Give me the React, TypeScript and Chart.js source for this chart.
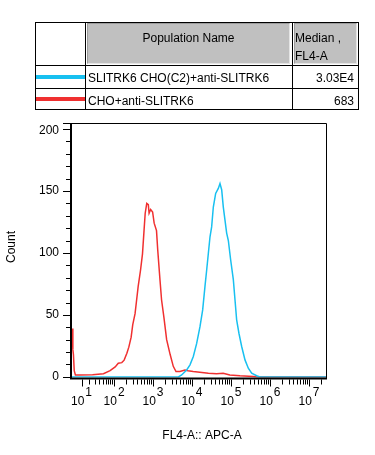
import React, { useEffect, useRef } from "react";
import { Chart, registerables } from "chart.js";

Chart.register(...registerables);

// ---------- data ----------
const POPULATIONS = ["SLITRK6 CHO(C2)+anti-SLITRK6", "CHO+anti-SLITRK6"];
const MEDIANS = ["3.03E4", "683"];
const SERIES_COLORS = ["#18c0f0", "#f03030"];

// histogram bins: position in display decades (biexponential axis), count
const BLUE_X = [0.92, 3.65, 3.735, 3.863, 3.949, 4.034, 4.12, 4.205, 4.274, 4.333, 4.376, 4.419, 4.462, 4.504, 4.547, 4.607, 4.675, 4.718, 4.761, 4.803, 4.846, 4.889, 4.932, 4.991, 5.06, 5.103, 5.145, 5.205, 5.274, 5.359, 5.444, 5.53, 5.658, 5.744, 7.47];
const BLUE_Y = [0, 0, 1.5, 5.6, 9.7, 16.4, 27, 40.5, 54, 73, 86, 99.5, 113, 121, 137, 148, 152, 156, 151, 137, 126.5, 116, 110, 94.5, 78.5, 62, 46, 35, 24.5, 13.7, 7, 3, 0.9, 0, 0];

const RED_X = [0.93, 0.945, 0.96, 0.98, 1.01, 1.13, 1.45, 1.73, 1.9, 2.03, 2.11, 2.2, 2.26, 2.33, 2.38, 2.44, 2.48, 2.54, 2.58, 2.62, 2.68, 2.73, 2.77, 2.8, 2.84, 2.88, 2.9, 2.94, 2.99, 3.03, 3.09, 3.12, 3.18, 3.22, 3.28, 3.35, 3.44, 3.52, 3.59, 3.69, 3.82, 3.9, 4.03, 4.2, 4.42, 4.63, 4.8, 4.97, 5.23, 5.57, 5.66, 7.47];
const RED_Y = [39, 22, 18, 5, 1.5, 1.5, 1.8, 2.5, 5, 8, 11, 11.5, 13.5, 19, 24, 32, 42, 51, 62, 73, 86, 99, 118, 132, 140, 139, 132, 135, 133, 124, 118, 103, 78, 62, 48, 30, 18, 8.5, 4.3, 4.3, 5.6, 4.9, 4.3, 3.7, 3, 2.5, 3, 1.6, 0.9, 0.4, 0, 0];

// axes
const X_MIN = 0.923;
const X_MAX = 7.462;
const Y_MIN = -0.5;
const Y_MAX = 204.8;
const X_DECADES = [1, 2, 3, 4, 5, 6, 7];
const X_MINOR_MULT = [2, 3, 4, 5, 6, 7, 8, 9];
const Y_MAJOR = [0, 50, 100, 150, 200];
const Y_MINOR_STEP = 10;
const X_TITLE = "FL4-A:: APC-A";
const Y_TITLE = "Count";

const FONT = '"Liberation Sans", Arial, Helvetica, sans-serif';
const BIEX_A = 8.3;
const toU = (v: number) => Math.log10(v / 2 + Math.sqrt((v * v) / 4 + BIEX_A * BIEX_A));

const axesPlugin = {
  id: "flowAxes",
  afterDraw(chart: any) {
    const { ctx, chartArea: a, scales } = chart;
    const xs = scales.x;
    const ys = scales.y;
    ctx.save();
    ctx.strokeStyle = "#000";
    ctx.fillStyle = "#000";
    // thin frame top/right (top line extends left as a tick)
    ctx.lineWidth = 1;
    ctx.beginPath();
    ctx.moveTo(a.left - 9, a.top + 0.5);
    ctx.lineTo(a.right - 0.5, a.top + 0.5);
    ctx.lineTo(a.right - 0.5, a.bottom + 1);
    ctx.stroke();
    // thick left & bottom axes
    ctx.lineWidth = 2;
    ctx.beginPath();
    ctx.moveTo(a.left - 1, a.top);
    ctx.lineTo(a.left - 1, a.bottom + 2);
    ctx.moveTo(a.left - 2, a.bottom + 1);
    ctx.lineTo(a.right, a.bottom + 1);
    ctx.stroke();

    // x ticks
    ctx.lineWidth = 1;
    const axY = a.bottom + 2;
    const drawXTick = (v: number, len: number) => {
      const u = toU(v);
      if (u < X_MIN || u > X_MAX) return;
      const px = Math.round(xs.getPixelForValue(u)) + 0.5;
      ctx.beginPath();
      ctx.moveTo(px, axY);
      ctx.lineTo(px, axY + len);
      ctx.stroke();
    };
    for (const n of X_DECADES) {
      drawXTick(Math.pow(10, n), 7);
      for (const m of X_MINOR_MULT) drawXTick(m * Math.pow(10, n), 5);
    }
    // x labels
    ctx.font = `12px ${FONT}`;
    ctx.textBaseline = "alphabetic";
    ctx.textAlign = "left";
    for (const n of X_DECADES) {
      const px = xs.getPixelForValue(toU(Math.pow(10, n)));
      const w10 = ctx.measureText("10").width;
      const sup = String(n);
      const ws = ctx.measureText(sup).width;
      const start = px - (w10 + 1 + ws) / 2;
      ctx.fillText("10", start, 405);
      ctx.fillText(sup, start + w10 + 1, 396);
    }

    // y ticks
    const axX = a.left - 2;
    for (let v = 0; v <= 200; v += Y_MINOR_STEP) {
      const py = Math.round(ys.getPixelForValue(v)) + 0.5;
      const len = Y_MAJOR.includes(v) ? 7 : 4;
      ctx.beginPath();
      ctx.moveTo(axX, py);
      ctx.lineTo(axX - len, py);
      ctx.stroke();
    }
    ctx.textAlign = "right";
    ctx.textBaseline = "middle";
    for (const v of Y_MAJOR) {
      ctx.fillText(String(v), 59, ys.getPixelForValue(v) + (v === 200 ? 2 : 0));
    }

    // titles
    ctx.textAlign = "center";
    ctx.textBaseline = "middle";
    ctx.fillText(X_TITLE, 202, 436);
    ctx.save();
    ctx.translate(12, 247);
    ctx.rotate(-Math.PI / 2);
    ctx.fillText(Y_TITLE, 0, 0);
    ctx.restore();
    ctx.restore();
  },
};

const abs = (s: React.CSSProperties): React.CSSProperties => ({ position: "absolute", ...s });

export default function App() {
  const ref = useRef<HTMLCanvasElement>(null);
  useEffect(() => {
    const chart = new Chart(ref.current as HTMLCanvasElement, {
      type: "line",
      data: {
        datasets: [
          {
            label: POPULATIONS[0],
            data: BLUE_X.map((x, i) => ({ x, y: BLUE_Y[i] })),
            borderColor: SERIES_COLORS[0],
            borderWidth: 1.5,
            pointRadius: 0,
            fill: false,
            tension: 0,
          },
          {
            label: POPULATIONS[1],
            data: RED_X.map((x, i) => ({ x, y: RED_Y[i] })),
            borderColor: SERIES_COLORS[1],
            borderWidth: 1.5,
            pointRadius: 0,
            fill: false,
            tension: 0,
          },
        ],
      },
      options: {
        animation: false,
        responsive: false,
        devicePixelRatio: 1,
        events: [],
        layout: { autoPadding: false, padding: { left: 72, top: 123, right: 48, bottom: 77.5 } },
        plugins: { legend: { display: false }, tooltip: { enabled: false } },
        scales: {
          x: { type: "linear", min: X_MIN, max: X_MAX, display: false },
          y: { type: "linear", min: Y_MIN, max: Y_MAX, display: false },
        },
      },
      plugins: [axesPlugin],
    } as any);
    return () => chart.destroy();
  }, []);

  const text: React.CSSProperties = { fontFamily: FONT, fontSize: 12, lineHeight: "15px", color: "#000", whiteSpace: "nowrap" };
  const grey: React.CSSProperties = {
    background: "#c0c0c0",
    borderTop: "1px solid #9c9c9c",
    borderLeft: "1px solid #9c9c9c",
    borderBottom: "1px solid #e4e4e4",
    borderRight: "1px solid #e4e4e4",
    boxSizing: "border-box",
  };

  return (
    <div style={{ position: "fixed", left: 0, top: 0, width: 375, height: 455, background: "#fff", overflow: "hidden" }}>
      <canvas ref={ref} width={375} height={455} style={abs({ left: 0, top: 0, width: 375, height: 455 })} />
      {/* table */}
      <div style={abs({ left: 87, top: 23, width: 203, height: 41, ...grey })} />
      <div style={abs({ left: 294, top: 23, width: 63, height: 41, ...grey })} />
      <div style={abs({ left: 35, top: 22, width: 324, height: 88, border: "1px solid #000", boxSizing: "border-box" })} />
      <div style={abs({ left: 85, top: 22, width: 1, height: 88, background: "#000" })} />
      <div style={abs({ left: 292, top: 22, width: 1, height: 88, background: "#000" })} />
      <div style={abs({ left: 35, top: 65, width: 324, height: 1, background: "#000" })} />
      <div style={abs({ left: 35, top: 88, width: 324, height: 1, background: "#000" })} />
      <div style={abs({ left: 87, top: 30.5, width: 203, textAlign: "center", ...text })}>Population Name</div>
      <div style={abs({ left: 295, top: 30.5, ...text })}>Median ,</div>
      <div style={abs({ left: 295, top: 49, ...text })}>FL4-A</div>
      {POPULATIONS.map((p, i) => (
        <React.Fragment key={p}>
          <div style={abs({ left: 36, top: i === 0 ? 75 : 97, width: 49, height: 4, background: SERIES_COLORS[i] })} />
          <div style={abs({ left: 88, top: i === 0 ? 71 : 94, ...text })}>{p}</div>
          <div style={abs({ left: 294, top: i === 0 ? 71 : 94, width: 60, textAlign: "right", ...text })}>{MEDIANS[i]}</div>
        </React.Fragment>
      ))}
    </div>
  );
}
